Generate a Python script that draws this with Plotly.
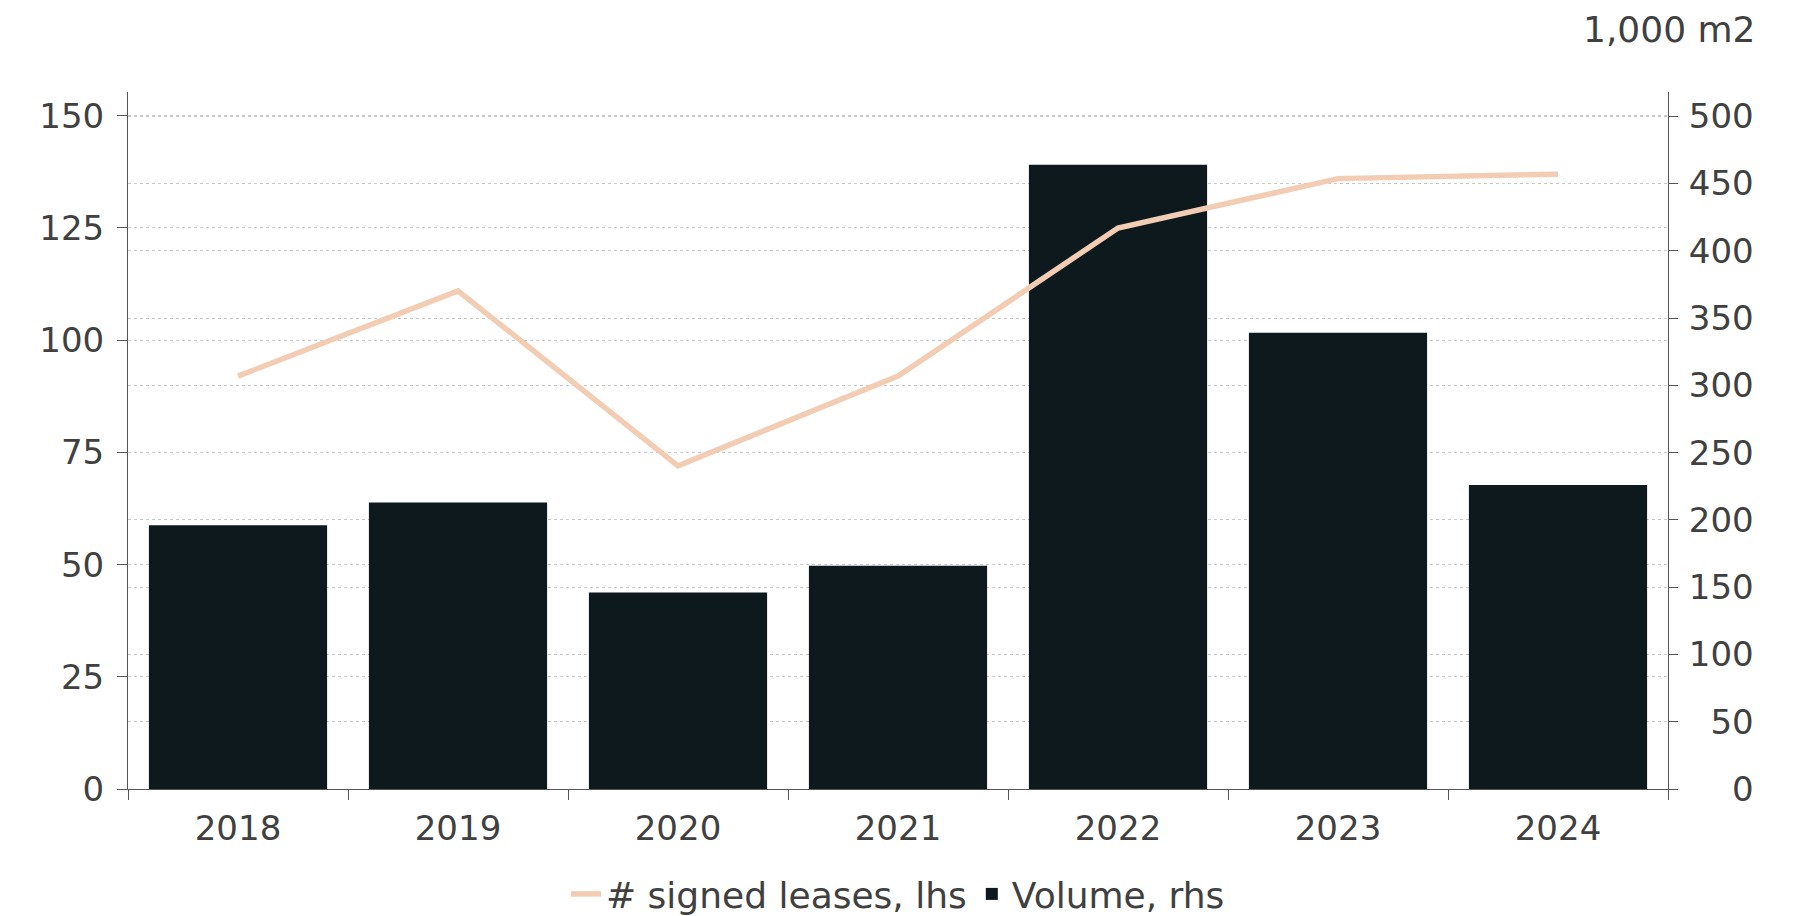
import plotly.graph_objects as go

years = ["2018", "2019", "2020", "2021", "2022", "2023", "2024"]
volume_rhs = [196, 213, 146, 166, 464, 339, 226]
leases_lhs = [92, 111, 72, 92, 125, 136, 137]

lhs_ticks = [0, 25, 50, 75, 100, 125, 150]
rhs_ticks = [0, 50, 100, 150, 200, 250, 300, 350, 400, 450, 500]

BAR = "#0D191D"
LINE = "#F2CDB4"
TXT = "#404040"
AX = "#555555"
GRID = "#c8c8c8"
FONT = "DejaVu Sans"
FS = 34

FIG_SP = "\u2007"
rhs_text = [FIG_SP * (3 - len(str(v))) + str(v) for v in rhs_ticks]

fig = go.Figure()
fig.add_trace(go.Bar(x=years, y=volume_rhs, name="Volume, rhs",
                     marker=dict(color=BAR, line=dict(width=0)), yaxis="y", legendrank=2))
fig.add_trace(go.Scatter(x=years, y=leases_lhs, name="# signed leases, lhs", mode="lines",
                         line=dict(color=LINE, width=5.5), yaxis="y2", legendrank=1))

fig.update_layout(
    width=1804, height=916,
    margin=dict(l=128, r=136, t=92, b=127, autoexpand=False),
    plot_bgcolor="white", paper_bgcolor="white",
    font=dict(family=FONT, color=TXT, size=FS),
    bargap=0.19,
    showlegend=True,
    legend=dict(orientation="h", x=0.5, xanchor="center",
                yref="container", y=(916 - 894) / 916, yanchor="middle",
                font=dict(size=36, color=TXT, family=FONT), itemwidth=30,
                tracegroupgap=0, borderwidth=0),
    xaxis=dict(type="category", showline=True, linecolor=AX, linewidth=1,
               ticks="outside", tickson="boundaries", ticklen=10, tickcolor=AX,
               showgrid=False, tickfont=dict(size=FS, color=TXT), ticklabelstandoff=9),
    yaxis=dict(range=[0, 518], tickvals=rhs_ticks, ticktext=rhs_text, side="right",
               showline=True, linecolor=AX, linewidth=1, ticks="outside", ticklen=9,
               tickcolor=AX, showgrid=True, gridcolor=GRID, griddash="dot", gridwidth=1,
               zeroline=False, tickfont=dict(size=FS, color=TXT), ticklabelstandoff=4),
    yaxis2=dict(range=[0, 155.3], tickvals=lhs_ticks, overlaying="y", side="left",
                showline=True, linecolor=AX, linewidth=1, ticks="outside", ticklen=10,
                tickcolor=AX, showgrid=True, gridcolor=GRID, griddash="dot", gridwidth=1,
                zeroline=False, tickfont=dict(size=FS, color=TXT), ticklabelstandoff=6),
    annotations=[dict(text="1,000 m2", xref="paper", yref="paper", x=(1757 - 128) / 1540,
                      y=1.0, xanchor="right", yanchor="middle", yshift=92 - 29,
                      showarrow=False, font=dict(size=36, color=TXT, family=FONT))],
)

fig.write_html("out.html")
